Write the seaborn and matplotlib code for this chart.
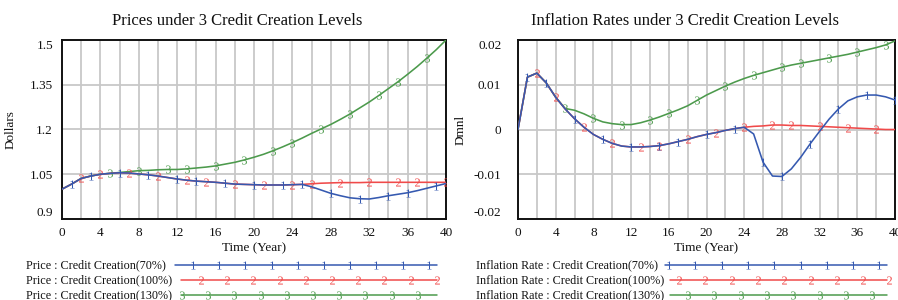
import numpy as np
import pandas as pd
import matplotlib
matplotlib.use("Agg")
import matplotlib.pyplot as plt
import seaborn as sns

# ---------------- data ----------------
years = list(range(41))

price_70 = [1.000, 1.017, 1.036, 1.044, 1.050, 1.053, 1.055, 1.054, 1.051, 1.048,
            1.044, 1.039, 1.034, 1.030, 1.027, 1.025, 1.023, 1.020, 1.017, 1.016,
            1.015, 1.014, 1.014, 1.014, 1.015, 1.016, 1.008, 0.997, 0.986, 0.978,
            0.971, 0.968, 0.967, 0.972, 0.978, 0.983, 0.988, 0.995, 1.003, 1.011,
            1.019]
price_100 = [1.000, 1.017, 1.036, 1.044, 1.050, 1.053, 1.055, 1.054, 1.051, 1.048,
             1.044, 1.039, 1.034, 1.030, 1.027, 1.025, 1.023, 1.020, 1.017, 1.016,
             1.015, 1.014, 1.014, 1.014, 1.015, 1.016, 1.018, 1.020, 1.021, 1.022,
             1.022, 1.022, 1.023, 1.023, 1.023, 1.023, 1.023, 1.023, 1.023, 1.023,
             1.023]
price_130 = [1.000, 1.017, 1.036, 1.044, 1.050, 1.053, 1.056, 1.059, 1.062, 1.063,
             1.065, 1.066, 1.066, 1.068, 1.071, 1.074, 1.078, 1.084, 1.090, 1.098,
             1.107, 1.117, 1.129, 1.142, 1.156, 1.171, 1.187, 1.202, 1.217, 1.234,
             1.252, 1.272, 1.292, 1.314, 1.337, 1.360, 1.385, 1.411, 1.439, 1.468,
             1.500]

infl_70 = [0.0, 0.0117, 0.0126, 0.0104, 0.0072, 0.0046, 0.0024, 0.0005, -0.0011, -0.0022,
           -0.0031, -0.0037, -0.0039, -0.0039, -0.0038, -0.0036, -0.0032, -0.0027, -0.0022, -0.0016,
           -0.0011, -0.0007, -0.0002, 0.0002, 0.0005, -0.0010, -0.0073, -0.0104, -0.0105, -0.0088,
           -0.0062, -0.0032, -0.0004, 0.0023, 0.0046, 0.0064, 0.0073, 0.0077, 0.0077, 0.0073,
           0.0066]
infl_100 = [0.0, 0.0117, 0.0126, 0.0104, 0.0072, 0.0046, 0.0024, 0.0005, -0.0011, -0.0022,
            -0.0031, -0.0037, -0.0039, -0.0039, -0.0038, -0.0036, -0.0032, -0.0027, -0.0022, -0.0016,
            -0.0011, -0.0007, -0.0002, 0.0002, 0.0005, 0.0007, 0.0008, 0.0010, 0.0010, 0.0009,
            0.0009, 0.0008, 0.0007, 0.0006, 0.0005, 0.0004, 0.0003, 0.0002, 0.0001, 0.0000,
            0.0000]
infl_130 = [0.0, 0.0117, 0.0126, 0.0104, 0.0072, 0.0047, 0.0043, 0.0035, 0.0025, 0.0017,
            0.0013, 0.0011, 0.0011, 0.0015, 0.0021, 0.0028, 0.0036, 0.0044, 0.0053, 0.0065,
            0.0077, 0.0087, 0.0097, 0.0106, 0.0114, 0.0121, 0.0127, 0.0133, 0.0139, 0.0144,
            0.0148, 0.0152, 0.0156, 0.0160, 0.0164, 0.0168, 0.0173, 0.0178, 0.0183, 0.0189,
            0.0198]

# years at which the run numbers "1", "2", "3" are written along each line
price_marks = {"1": [1, 3, 6, 9, 12, 14, 17, 20, 23, 25, 28, 31, 34, 36, 39],
               "2": [2, 4, 7, 10, 13, 15, 18, 21, 24, 26, 29, 32, 35, 37, 40],
               "3": [5, 8, 11, 13, 16, 19, 22, 24, 27, 30, 33, 35, 38]}
infl_marks = {"1": [1, 3, 6, 9, 12, 15, 17, 20, 23, 26, 28, 31, 34, 37, 40],
              "2": [2, 4, 7, 10, 13, 15, 18, 21, 24, 27, 29, 32, 35, 38],
              "3": [5, 8, 11, 14, 16, 19, 22, 25, 28, 30, 33, 36, 39]}

run_labels = ["Credit Creation(70%)", "Credit Creation(100%)", "Credit Creation(130%)"]
price_ticks = [0.9, 1.05, 1.2, 1.35, 1.5]
price_ticklabels = ["0.9", "1.05", "1.2", "1.35", "1.5"]
infl_ticks = [-0.02, -0.01, 0.0, 0.01, 0.02]
infl_ticklabels = ["-0.02", "-0.01", "0", "0.01", "0.02"]
x_ticks = [0, 4, 8, 12, 16, 20, 24, 28, 32, 36, 40]

# ---------------- style ----------------
sns.set_theme(style="white")
plt.rcParams["font.family"] = ["Liberation Serif", "DejaVu Serif"]
plt.rcParams["mathtext.fontset"] = "custom"
plt.rcParams["mathtext.rm"] = "Liberation Serif"
plt.rcParams["mathtext.it"] = "Liberation Serif"

colors = {"1": "#3559b0", "2": "#f04a4a", "3": "#4c9a4c"}
MS = 5.8

W, H = 898, 300
fig = plt.figure(figsize=(W / 100, H / 100), dpi=100)


def px_axes(x0, y0, x1, y1):
    return fig.add_axes([x0 / W, 1 - y1 / H, (x1 - x0) / W, (y1 - y0) / H])


def draw_panel(ax, series, marks, ylim, yticks, yticklabels, ylabel, ypad, ylab_x):
    for key, vals in series:
        df = pd.DataFrame({"Year": years, "Value": vals})
        sns.lineplot(data=df, x="Year", y="Value", ax=ax, color=colors[key],
                     linewidth=1.15, marker="$%s$" % key, markersize=MS,
                     markevery=marks[key], markeredgecolor=colors[key],
                     markerfacecolor=colors[key], markeredgewidth=0.0,
                     zorder=3, legend=False)
    ax.set_xlim(0, 40)
    ax.set_ylim(*ylim)
    ax.set_xticks(x_ticks)
    ax.set_xticks(list(range(2, 40, 4)), minor=True)
    ax.set_yticks(yticks)
    ax.set_yticklabels(yticklabels)
    tl = ax.get_yticklabels()
    tl[0].set_va("bottom")
    tl[-1].set_va("top")
    ax.grid(True, which="both", axis="x", color="#c8c8c8", linewidth=1.3, zorder=0)
    ax.grid(True, which="major", axis="y", color="#c8c8c8", linewidth=1.3, zorder=0)
    ax.tick_params(axis="both", which="both", length=0, labelsize=9.5, colors="#111111")
    ax.tick_params(axis="y", pad=ypad)
    ax.tick_params(axis="x", pad=6)
    for s in ax.spines.values():
        s.set_color("#111111")
        s.set_linewidth(1.4)
        s.set_visible(True)
    ax.set_xlabel("Time (Year)", fontsize=9.5, labelpad=2, color="#111111")
    ax.set_ylabel(ylabel, fontsize=9.5, color="#111111")
    ax.yaxis.set_label_coords(ylab_x, 0.5)


ax1 = px_axes(62, 40, 446, 219)
draw_panel(ax1, [("3", price_130), ("2", price_100), ("1", price_70)], price_marks,
           (0.9, 1.5), price_ticks, price_ticklabels, "Dollars", 6.5, (17 - 62) / 384)

ax2 = px_axes(518, 40, 895, 219)
draw_panel(ax2, [("3", infl_130), ("2", infl_100), ("1", infl_70)], infl_marks,
           (-0.02, 0.02), infl_ticks, infl_ticklabels, "Dmnl", 12, (467 - 518) / 377)

fig.text(237 / W, 1 - 21 / H, "Prices under 3 Credit Creation Levels",
         ha="center", va="center", fontsize=12, color="#111111")
fig.text(685 / W, 1 - 21 / H, "Inflation Rates under 3 Credit Creation Levels",
         ha="center", va="center", fontsize=12, color="#111111")

# ---------------- legends (Vensim style) ----------------
lax = fig.add_axes([0, 0, 1, 1])
lax.set_xlim(0, W)
lax.set_ylim(H, 0)
lax.axis("off")

rows_y = [265, 280, 295]
legend_spec = [
    # text x, prefix, line starts, line end, first marker, n markers, step
    (26, "Price : ", [175, 181, 181], 437, [193, 201, 182], [10, 10, 10], 26.2),
    (476, "Inflation Rate : ", [665, 670, 670], 887, [669, 679, 688], [9, 9, 8], 26.3),
]
for tx, prefix, starts, xend, first, counts, step in legend_spec:
    for i, key in enumerate(["1", "2", "3"]):
        y = rows_y[i]
        lax.text(tx, y, prefix + run_labels[i], fontsize=8.7, va="center",
                 ha="left", color="#111111")
        mxs = [first[i] + step * k for k in range(counts[i])]
        lax.plot([starts[i], xend], [y, y], color=colors[key], linewidth=1.1)
        lax.plot(mxs, [y] * len(mxs), linestyle="none", color=colors[key],
                 marker="$%s$" % key, markersize=MS, markeredgewidth=0.0,
                 markerfacecolor=colors[key])

fig.savefig("out.png", dpi=100)
